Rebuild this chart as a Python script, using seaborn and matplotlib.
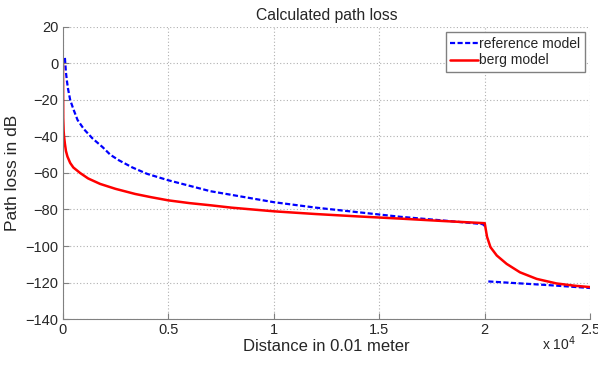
import numpy as np
import pandas as pd
import matplotlib
matplotlib.use("Agg")
import matplotlib.pyplot as plt
from matplotlib.ticker import FuncFormatter
import seaborn as sns

# values (distance in 0.01 m, loss in dB)
ref_dist = [100, 150, 200, 250, 350, 500, 700, 1000, 1400, 1900, 2250, 2650,
            3300, 4000, 5000, 6000, 7000, 8000, 9000, 10000, 12000, 14000,
            16000, 18000, 19900, 20000]
ref_loss = [3, -5, -10, -14, -20, -25, -31, -36, -41, -46, -50, -53,
            -57, -60.5, -64, -67, -70, -72, -74, -76, -79, -81.5,
            -84, -86, -88, -89]
ref_dist2 = [20170, 21000, 22000, 23000, 24000, 25000]
ref_loss2 = [-119.4, -120, -120.7, -121.4, -122.2, -123]

berg_dist = [10, 20, 40, 60, 100, 150, 220, 350, 500, 820, 1200, 1770, 2500,
             3430, 4200, 5000, 6000, 7000, 8000, 9000, 10000, 12000, 14000,
             16000, 18000, 20000, 20050, 20110, 20270, 20570, 21040, 21670,
             22460, 23400, 24300, 25000]
berg_loss = [0, -30, -37, -40, -44, -48, -51, -54.5, -57, -60, -63, -66, -68.7,
             -71.5, -73.3, -75, -76.5, -77.7, -79, -80, -81, -82.5, -83.8,
             -85, -86.3, -87.5, -91, -95, -100.6, -105.2, -109.8, -114.4,
             -118, -120.5, -121.8, -122.5]

sns.set_style("white")
plt.rcParams["font.family"] = ["Liberation Sans", "DejaVu Sans"]

fig = plt.figure(figsize=(5.98, 3.68), dpi=100)
ax = fig.add_axes([0.105, 0.133, 0.882, 0.794])

ref_a = pd.DataFrame({"d": ref_dist, "L": ref_loss})
ref_b = pd.DataFrame({"d": ref_dist2, "L": ref_loss2})
berg = pd.DataFrame({"d": berg_dist, "L": berg_loss})

dash = (0, (2.3, 1.1))
sns.lineplot(data=ref_a, x="d", y="L", ax=ax, color="#0000ff", lw=1.6,
             linestyle=dash, label="reference model")
sns.lineplot(data=ref_b, x="d", y="L", ax=ax, color="#0000ff", lw=1.6,
             linestyle=dash)
sns.lineplot(data=berg, x="d", y="L", ax=ax, color="#ff0000", lw=1.8,
             label="berg model")

ax.set_xlim(0, 25000)
ax.set_ylim(-140, 20)
ax.set_xticks(np.arange(0, 25001, 5000))
ax.set_yticks(np.arange(-140, 21, 20))
ax.xaxis.set_major_formatter(FuncFormatter(lambda v, p: f"{v/1e4:g}"))
ax.grid(True, color="#b0b0b0", linestyle=(0, (1, 2)), linewidth=0.8)
for s in ["top", "right"]:
    ax.spines[s].set_visible(False)
for s in ["left", "bottom"]:
    ax.spines[s].set_color("#808080")
ax.tick_params(direction="in", length=4, color="#808080", labelsize=10.5,
               labelcolor="#262626", left=True, bottom=True, pad=3)

ax.set_title("Calculated path loss", fontsize=11.3, pad=5)
ax.set_xlabel("Distance in 0.01 meter", fontsize=12, labelpad=1)
ax.set_ylabel("Path loss in dB", fontsize=12.5, labelpad=4)
fig.text(576 / 598, 1 - 344 / 368, r"x 10$^4$", ha="right", va="center",
         fontsize=10, color="#262626")

leg = ax.legend(loc="upper right", fontsize=10, handlelength=2,
                handletextpad=0.1, borderpad=0.3, labelspacing=0.2,
                fancybox=False, framealpha=1, borderaxespad=0.4)
leg.get_frame().set_edgecolor("#808080")

plt.savefig("out.png", dpi=100)
